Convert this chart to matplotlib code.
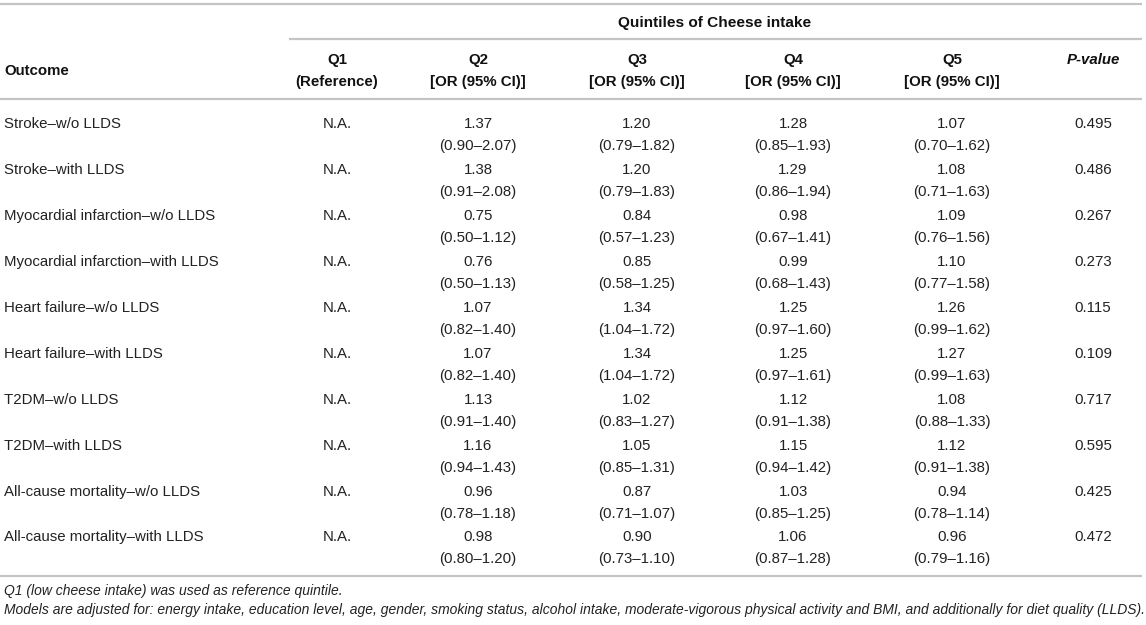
import matplotlib
matplotlib.use("Agg")
import matplotlib.pyplot as plt

outcomes = [
    "Stroke\u2013w/o LLDS", "Stroke\u2013with LLDS",
    "Myocardial infarction\u2013w/o LLDS", "Myocardial infarction\u2013with LLDS",
    "Heart failure\u2013w/o LLDS", "Heart failure\u2013with LLDS",
    "T2DM\u2013w/o LLDS", "T2DM\u2013with LLDS",
    "All-cause mortality\u2013w/o LLDS", "All-cause mortality\u2013with LLDS",
]
q1 = ["N.A."] * 10
q2_or = ["1.37", "1.38", "0.75", "0.76", "1.07", "1.07", "1.13", "1.16", "0.96", "0.98"]
q2_ci = ["0.90\u20132.07", "0.91\u20132.08", "0.50\u20131.12", "0.50\u20131.13", "0.82\u20131.40",
         "0.82\u20131.40", "0.91\u20131.40", "0.94\u20131.43", "0.78\u20131.18", "0.80\u20131.20"]
q3_or = ["1.20", "1.20", "0.84", "0.85", "1.34", "1.34", "1.02", "1.05", "0.87", "0.90"]
q3_ci = ["0.79\u20131.82", "0.79\u20131.83", "0.57\u20131.23", "0.58\u20131.25", "1.04\u20131.72",
         "1.04\u20131.72", "0.83\u20131.27", "0.85\u20131.31", "0.71\u20131.07", "0.73\u20131.10"]
q4_or = ["1.28", "1.29", "0.98", "0.99", "1.25", "1.25", "1.12", "1.15", "1.03", "1.06"]
q4_ci = ["0.85\u20131.93", "0.86\u20131.94", "0.67\u20131.41", "0.68\u20131.43", "0.97\u20131.60",
         "0.97\u20131.61", "0.91\u20131.38", "0.94\u20131.42", "0.85\u20131.25", "0.87\u20131.28"]
q5_or = ["1.07", "1.08", "1.09", "1.10", "1.26", "1.27", "1.08", "1.12", "0.94", "0.96"]
q5_ci = ["0.70\u20131.62", "0.71\u20131.63", "0.76\u20131.56", "0.77\u20131.58", "0.99\u20131.62",
         "0.99\u20131.63", "0.88\u20131.33", "0.91\u20131.38", "0.78\u20131.14", "0.79\u20131.16"]
p_values = ["0.495", "0.486", "0.267", "0.273", "0.115", "0.109", "0.717", "0.595", "0.425", "0.472"]

span_title = "Quintiles of Cheese intake"
col_heads = [("Q1", "(Reference)"), ("Q2", "[OR (95% CI)]"), ("Q3", "[OR (95% CI)]"),
             ("Q4", "[OR (95% CI)]"), ("Q5", "[OR (95% CI)]")]
footnotes = [
    "Q1 (low cheese intake) was used as reference quintile.",
    "Models are adjusted for: energy intake, education level, age, gender, smoking status, alcohol intake, "
    "moderate-vigorous physical activity and BMI, and additionally for diet quality (LLDS).",
]

W, H = 1146, 625
fig = plt.figure(figsize=(W / 100, H / 100), dpi=100)
ax = fig.add_axes([0, 0, 1, 1])
ax.set_xlim(0, W)
ax.set_ylim(H, 0)
ax.axis("off")

FONT = "Liberation Sans"
FS = 10.8
FS_NOTE = 10.04
TXT = "#222222"
HEAD = "#111111"
LINE = "#c4c4c4"
LW = 1.6
CAP = 5.4  # half cap height in px, to convert visual center to baseline

def put(x, y, s, ha="center", weight="normal", style="normal", color=TXT, fs=FS):
    ax.text(x, y + CAP, s, ha=ha, va="baseline", fontsize=fs, family=FONT,
            fontweight=weight, fontstyle=style, color=color)

# rules
ax.plot([0, 1142], [4, 4], color=LINE, lw=LW, solid_capstyle="butt")
ax.plot([289, 1142], [39, 39], color=LINE, lw=LW, solid_capstyle="butt")
ax.plot([0, 1142], [99, 99], color=LINE, lw=LW, solid_capstyle="butt")
ax.plot([0, 1142], [576, 576], color=LINE, lw=LW, solid_capstyle="butt")

# header
put(715, 22, span_title, weight="bold", color=HEAD, fs=11.1)
put(4, 70, "Outcome", ha="left", weight="bold", color=HEAD)
col_x = [337, 478, 637, 793, 952]
for x, (a, b) in zip(col_x, col_heads):
    put(x, 59, a, weight="bold", color=HEAD)
    put(x, 81, b, weight="bold", color=HEAD)
px = 1093
put(px, 59, "P-value", weight="bold", style="italic", color=HEAD)

# body
y0, dy, ci_off = 123, 45.9, 22
cols = [(q2_or, q2_ci), (q3_or, q3_ci), (q4_or, q4_ci), (q5_or, q5_ci)]
for i, name in enumerate(outcomes):
    y = y0 + i * dy
    put(4, y, name, ha="left")
    put(col_x[0], y, q1[i])
    for x, (ors, cis) in zip(col_x[1:], cols):
        put(x, y, ors[i])
        put(x, y + ci_off, "(" + cis[i] + ")")
    put(px, y, p_values[i])

put(4, 590, footnotes[0], ha="left", style="italic", fs=FS_NOTE)
put(4, 609, footnotes[1], ha="left", style="italic", fs=FS_NOTE)

fig.savefig("out.png", dpi=100)
